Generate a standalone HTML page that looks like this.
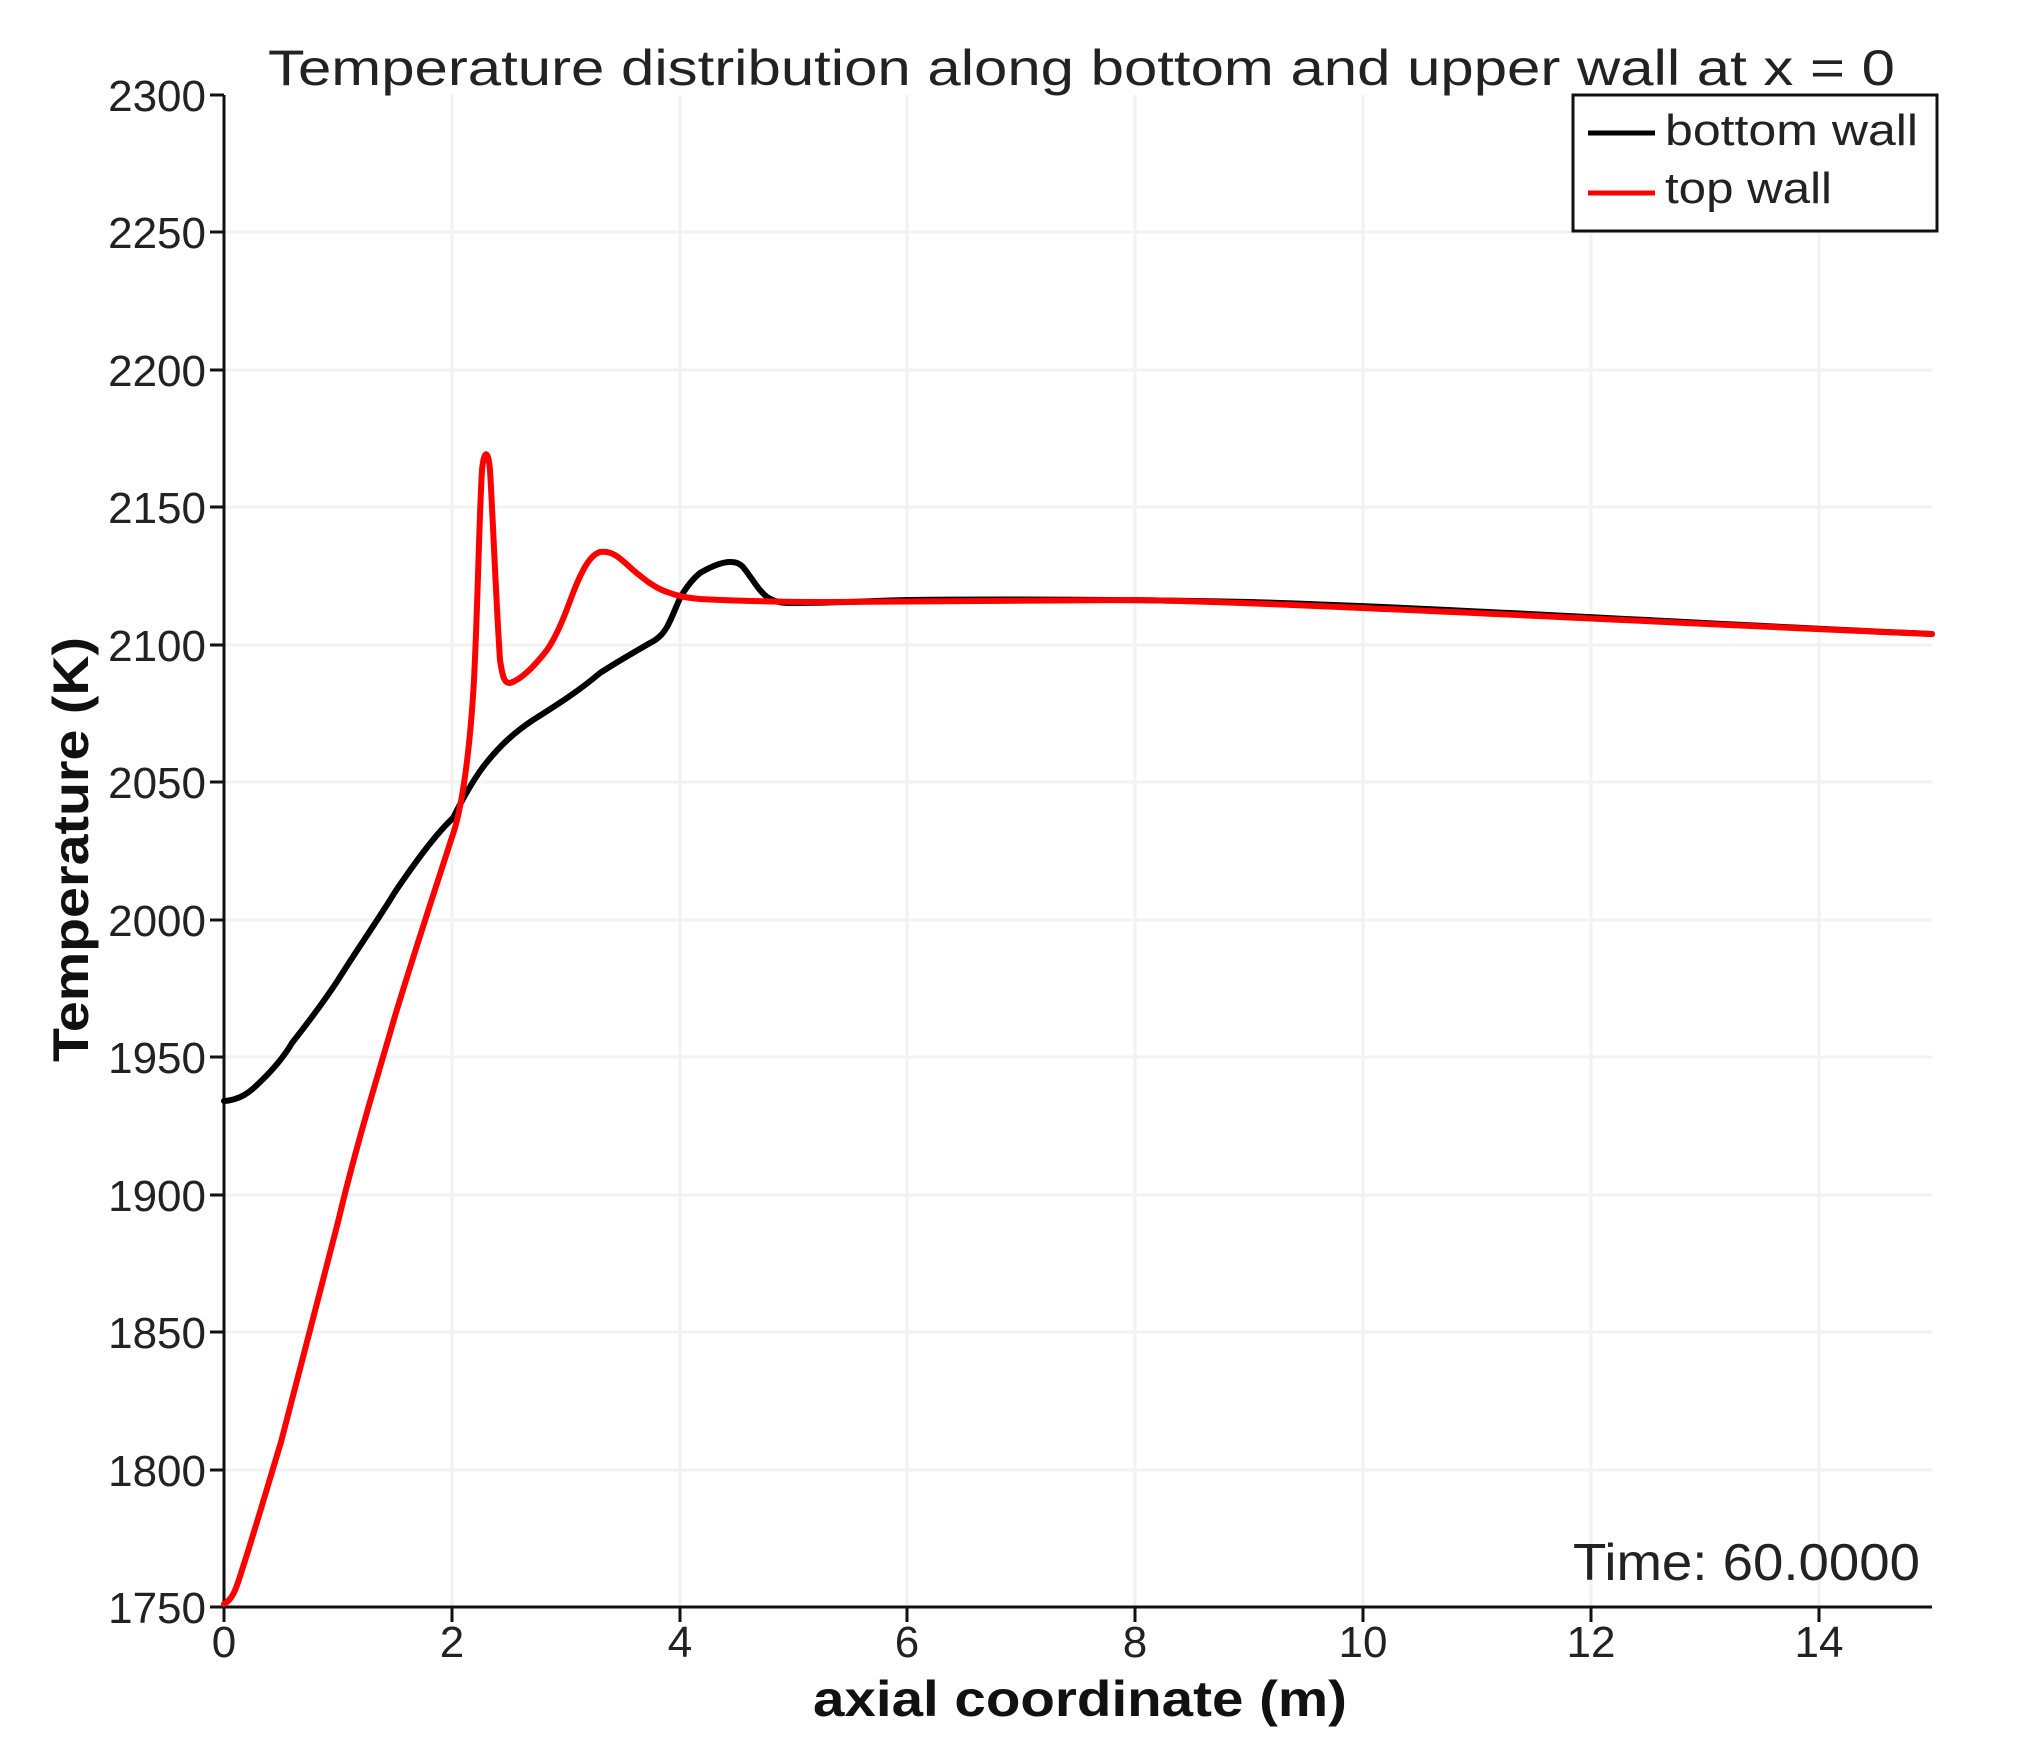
<!DOCTYPE html>
<html><head><style>html,body{margin:0;padding:0;background:#fff;}svg{display:block;}</style></head>
<body>
<svg width="2018" height="1756" viewBox="0 0 2018 1756" xmlns="http://www.w3.org/2000/svg" font-family="Liberation Sans, sans-serif">
<rect width="2018" height="1756" fill="#fff"/>
<g stroke="#f2f2f2" stroke-width="3">
<line x1="452" y1="95" x2="452" y2="1607"/><line x1="680" y1="95" x2="680" y2="1607"/>
<line x1="907" y1="95" x2="907" y2="1607"/><line x1="1135" y1="95" x2="1135" y2="1607"/>
<line x1="1363" y1="95" x2="1363" y2="1607"/><line x1="1591" y1="95" x2="1591" y2="1607"/>
<line x1="1819" y1="95" x2="1819" y2="1607"/>
<line x1="224" y1="232" x2="1932" y2="232"/><line x1="224" y1="370" x2="1932" y2="370"/>
<line x1="224" y1="507" x2="1932" y2="507"/><line x1="224" y1="645" x2="1932" y2="645"/>
<line x1="224" y1="782" x2="1932" y2="782"/><line x1="224" y1="920" x2="1932" y2="920"/>
<line x1="224" y1="1057" x2="1932" y2="1057"/><line x1="224" y1="1195" x2="1932" y2="1195"/>
<line x1="224" y1="1332" x2="1932" y2="1332"/><line x1="224" y1="1470" x2="1932" y2="1470"/>
</g>
<g stroke="#111" stroke-width="3">
<line x1="224" y1="95" x2="224" y2="1622"/>
<line x1="210" y1="1607" x2="1932" y2="1607"/>
<line x1="210" y1="95" x2="224" y2="95"/><line x1="210" y1="232" x2="224" y2="232"/><line x1="210" y1="370" x2="224" y2="370"/><line x1="210" y1="507" x2="224" y2="507"/><line x1="210" y1="645" x2="224" y2="645"/><line x1="210" y1="782" x2="224" y2="782"/><line x1="210" y1="920" x2="224" y2="920"/><line x1="210" y1="1057" x2="224" y2="1057"/><line x1="210" y1="1195" x2="224" y2="1195"/><line x1="210" y1="1332" x2="224" y2="1332"/><line x1="210" y1="1470" x2="224" y2="1470"/>
<line x1="452" y1="1607" x2="452" y2="1622"/><line x1="680" y1="1607" x2="680" y2="1622"/><line x1="907" y1="1607" x2="907" y2="1622"/><line x1="1135" y1="1607" x2="1135" y2="1622"/><line x1="1363" y1="1607" x2="1363" y2="1622"/><line x1="1591" y1="1607" x2="1591" y2="1622"/><line x1="1819" y1="1607" x2="1819" y2="1622"/>
</g>
<g font-size="44" fill="#222" text-anchor="end">
<text x="206" y="111">2300</text><text x="206" y="248">2250</text><text x="206" y="386">2200</text><text x="206" y="523">2150</text><text x="206" y="661">2100</text><text x="206" y="798">2050</text><text x="206" y="936">2000</text><text x="206" y="1073">1950</text><text x="206" y="1211">1900</text><text x="206" y="1348">1850</text><text x="206" y="1486">1800</text><text x="206" y="1623">1750</text>
</g>
<g font-size="44" fill="#222" text-anchor="middle">
<text x="224" y="1657">0</text><text x="452" y="1657">2</text><text x="680" y="1657">4</text><text x="907" y="1657">6</text><text x="1135" y="1657">8</text><text x="1363" y="1657">10</text><text x="1591" y="1657">12</text><text x="1819" y="1657">14</text>
</g>
<text x="268" y="85" font-size="50" fill="#222" textLength="1627" lengthAdjust="spacingAndGlyphs">Temperature distribution along bottom and upper wall at x = 0</text>
<text x="813" y="1716" font-size="50" font-weight="bold" fill="#111" textLength="534" lengthAdjust="spacingAndGlyphs">axial coordinate (m)</text>
<text transform="translate(88,1062) rotate(-90)" font-size="50" font-weight="bold" fill="#111" textLength="425" lengthAdjust="spacingAndGlyphs">Temperature (K)</text>
<text x="1573" y="1580" font-size="52" fill="#222" textLength="347" lengthAdjust="spacingAndGlyphs">Time: 60.0000</text>
<g fill="none" stroke-width="6" stroke-linejoin="round" stroke-linecap="round">
<path stroke="#000" d="M224,1101 C240,1100 250,1092 258,1084 C275,1068 285,1055 292,1043 C310,1020 325,1000 338,980 C360,945 378,920 395,892 C420,855 440,830 453,818 C462,800 472,782 483,767 C500,745 515,732 533,720 C560,703 580,690 600,673 C620,660 638,650 650,643 C660,638 664,632 667,627 C675,612 678,600 683,593 C690,582 695,577 700,573 C712,566 722,562 730,562 C737,562 740,564 743,567 C752,578 758,590 767,597 C775,602 782,603 787,603 C830,603 870,601 907,600 C1000,599 1100,599 1250,602 C1450,608 1700,624 1932,634"/>
<path stroke="#ff0000" d="M224,1604 C232,1600 236,1590 242,1570 C255,1530 268,1485 281,1442 C300,1370 320,1290 338,1222 C355,1150 375,1085 395,1016 C415,950 435,890 452,837 C462,810 470,750 474,680 C478,600 479,520 482,470 C484,450 488,448 490,470 C493,520 496,600 500,660 C503,680 505,683 510,683 C520,680 533,668 547,650 C558,634 566,612 573,593 C582,570 590,555 600,552 C612,550 620,558 633,570 C645,580 655,588 667,592 C680,597 690,598 700,599 C740,601 780,602 830,602 C900,601 1000,600 1135,600 C1300,603 1600,620 1932,634"/>
</g>
<rect x="1573" y="95" width="364" height="136" fill="#fff" stroke="#111" stroke-width="3"/>
<line x1="1588" y1="133" x2="1655" y2="133" stroke="#000" stroke-width="5"/>
<line x1="1588" y1="193" x2="1655" y2="193" stroke="#ff0000" stroke-width="5"/>
<text x="1665" y="145" font-size="44" fill="#222" textLength="253" lengthAdjust="spacingAndGlyphs">bottom wall</text>
<text x="1665" y="203" font-size="44" fill="#222" textLength="167" lengthAdjust="spacingAndGlyphs">top wall</text>
</svg>
</body></html>
